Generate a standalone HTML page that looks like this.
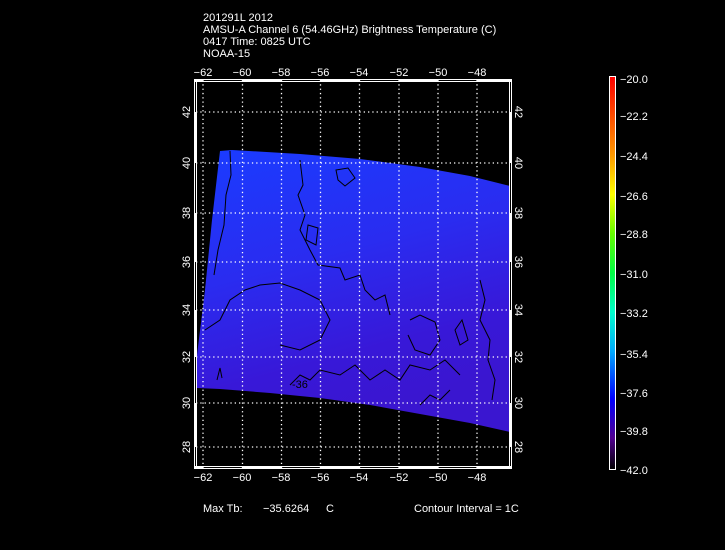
<!DOCTYPE html>
<html><head><style>
body{margin:0;background:#000;width:725px;height:550px;overflow:hidden}
svg{display:block}
text{font-family:"Liberation Sans",sans-serif;fill:#fff;font-size:11px}
</style></head><body>
<svg width="725" height="550" viewBox="0 0 725 550">
<defs>
<linearGradient id="sw" x1="0" y1="0" x2="0.3" y2="1">
<stop offset="0" stop-color="#1a3cff"/>
<stop offset="0.45" stop-color="#2a2cf0"/>
<stop offset="0.8" stop-color="#3818d8"/>
<stop offset="1" stop-color="#3a16d0"/>
</linearGradient>
<linearGradient id="cb" x1="0" y1="0" x2="0" y2="1">
<stop offset="0" stop-color="#ff0000"/>
<stop offset="0.2" stop-color="#ff9900"/>
<stop offset="0.3" stop-color="#ffff00"/>
<stop offset="0.4" stop-color="#66ff00"/>
<stop offset="0.5" stop-color="#00ff44"/>
<stop offset="0.6" stop-color="#00ffcc"/>
<stop offset="0.7" stop-color="#00aaff"/>
<stop offset="0.82" stop-color="#0000ff"/>
<stop offset="0.92" stop-color="#500090"/>
<stop offset="1" stop-color="#000000"/>
</linearGradient>
</defs>
<text x="203" y="21">201291L 2012</text>
<text x="203" y="33">AMSU-A Channel 6 (54.46GHz) Brightness Temperature (C)</text>
<text x="203" y="45">0417 Time: 0825 UTC</text>
<text x="203" y="57">NOAA-15</text>

<polygon points="220,151 232,150 300,154 360,159 420,167 470,176 510,186 510,432 470,423 420,414 370,405 320,398 270,393 220,389 197,388 197,355 205,290 212,220" fill="url(#sw)"/>
<g fill="none" stroke="#000" stroke-width="1">
<polyline points="230,151 231,175 226,195 224,225 218,250 214,275"/>
<polyline points="300,160 303,185 298,195 305,215 300,230 310,250 318,265 340,268 345,280 360,275 365,290 375,300 385,295 390,315"/>
<polygon points="336,170 348,168 355,178 345,186 338,180"/>
<polygon points="308,225 318,228 316,245 306,240"/>
<polyline points="205,330 220,320 230,300 245,290 260,285 280,283 300,290 320,300 330,320 320,340 300,350 280,345"/>
<polyline points="410,320 420,315 435,322 440,340 430,355 415,350 408,335"/>
<polygon points="455,330 462,320 468,340 460,345"/>
<polyline points="480,280 485,300 480,320 490,340 488,360 495,380 492,400"/>
<polyline points="290,385 300,375 310,380 320,370 340,375 355,365 370,380 385,370 400,380 410,365 430,370 445,360 460,375"/>
<polyline points="420,405 430,395 440,400 450,390"/>
<polyline points="217,380 220,368 222,378"/>
</g>
<text x="292" y="388" font-size="10" fill="#000" style="fill:#000">-36</text>

<g stroke="#fff" stroke-width="1.3" stroke-dasharray="1.3,3" fill="none">
<line x1="203" y1="80" x2="203" y2="468"/><line x1="242.5" y1="80" x2="242.5" y2="468"/>
<line x1="281.5" y1="80" x2="281.5" y2="468"/><line x1="320.5" y1="80" x2="320.5" y2="468"/>
<line x1="359.5" y1="80" x2="359.5" y2="468"/><line x1="399" y1="80" x2="399" y2="468"/>
<line x1="438" y1="80" x2="438" y2="468"/><line x1="477" y1="80" x2="477" y2="468"/>
<line x1="196" y1="112" x2="510" y2="112"/><line x1="196" y1="163" x2="510" y2="163"/>
<line x1="196" y1="213" x2="510" y2="213"/><line x1="196" y1="262" x2="510" y2="262"/>
<line x1="196" y1="310" x2="510" y2="310"/><line x1="196" y1="357" x2="510" y2="357"/>
<line x1="196" y1="403" x2="510" y2="403"/><line x1="196" y1="447" x2="510" y2="447"/>
</g>
<rect x="194.5" y="79.5" width="317" height="389" fill="none" stroke="#fff" stroke-width="1"/>
<rect x="196.5" y="81.5" width="313" height="385" fill="none" stroke="#fff" stroke-width="1"/>
<g fill="#fff">
<rect x="195" y="80" width="8" height="2"/><rect x="242" y="80" width="39" height="2"/><rect x="320" y="80" width="39" height="2"/><rect x="399" y="80" width="39" height="2"/><rect x="477" y="80" width="34" height="2"/>
<rect x="195" y="466" width="8" height="2"/><rect x="242" y="466" width="39" height="2"/><rect x="320" y="466" width="39" height="2"/><rect x="399" y="466" width="39" height="2"/><rect x="477" y="466" width="34" height="2"/>
<rect x="195" y="112" width="2" height="51"/><rect x="195" y="213" width="2" height="49"/><rect x="195" y="310" width="2" height="47"/><rect x="195" y="403" width="2" height="44"/>
<rect x="509" y="112" width="2" height="51"/><rect x="509" y="213" width="2" height="49"/><rect x="509" y="310" width="2" height="47"/><rect x="509" y="403" width="2" height="44"/>
</g>
<g text-anchor="middle">
<text x="203" y="76">−62</text><text x="242" y="76">−60</text><text x="281" y="76">−58</text><text x="320" y="76">−56</text><text x="359" y="76">−54</text><text x="399" y="76">−52</text><text x="438" y="76">−50</text><text x="477" y="76">−48</text>
<text x="203" y="481">−62</text><text x="242" y="481">−60</text><text x="281" y="481">−58</text><text x="320" y="481">−56</text><text x="359" y="481">−54</text><text x="399" y="481">−52</text><text x="438" y="481">−50</text><text x="477" y="481">−48</text>
</g>
<g text-anchor="middle">
<text transform="translate(190,112) rotate(-90)">42</text><text transform="translate(190,163) rotate(-90)">40</text><text transform="translate(190,213) rotate(-90)">38</text><text transform="translate(190,262) rotate(-90)">36</text><text transform="translate(190,310) rotate(-90)">34</text><text transform="translate(190,357) rotate(-90)">32</text><text transform="translate(190,403) rotate(-90)">30</text><text transform="translate(190,447) rotate(-90)">28</text>
<text transform="translate(515,112) rotate(90)">42</text><text transform="translate(515,163) rotate(90)">40</text><text transform="translate(515,213) rotate(90)">38</text><text transform="translate(515,262) rotate(90)">36</text><text transform="translate(515,310) rotate(90)">34</text><text transform="translate(515,357) rotate(90)">32</text><text transform="translate(515,403) rotate(90)">30</text><text transform="translate(515,447) rotate(90)">28</text>
</g>

<rect x="609.5" y="76.5" width="6" height="393" fill="url(#cb)" stroke="#fff" stroke-width="1"/>
<g>
<text x="620" y="83">−20.0</text><text x="620" y="120">−22.2</text><text x="620" y="160">−24.4</text><text x="620" y="200">−26.6</text><text x="620" y="238">−28.8</text><text x="620" y="278">−31.0</text><text x="620" y="317">−33.2</text><text x="620" y="358">−35.4</text><text x="620" y="397">−37.6</text><text x="620" y="435">−39.8</text><text x="620" y="474">−42.0</text>
</g>
<text x="203" y="512">Max Tb:</text><text x="263" y="512">−35.6264</text><text x="326" y="512">C</text>
<text x="414" y="512">Contour Interval = 1C</text>
</svg>
</body></html>
